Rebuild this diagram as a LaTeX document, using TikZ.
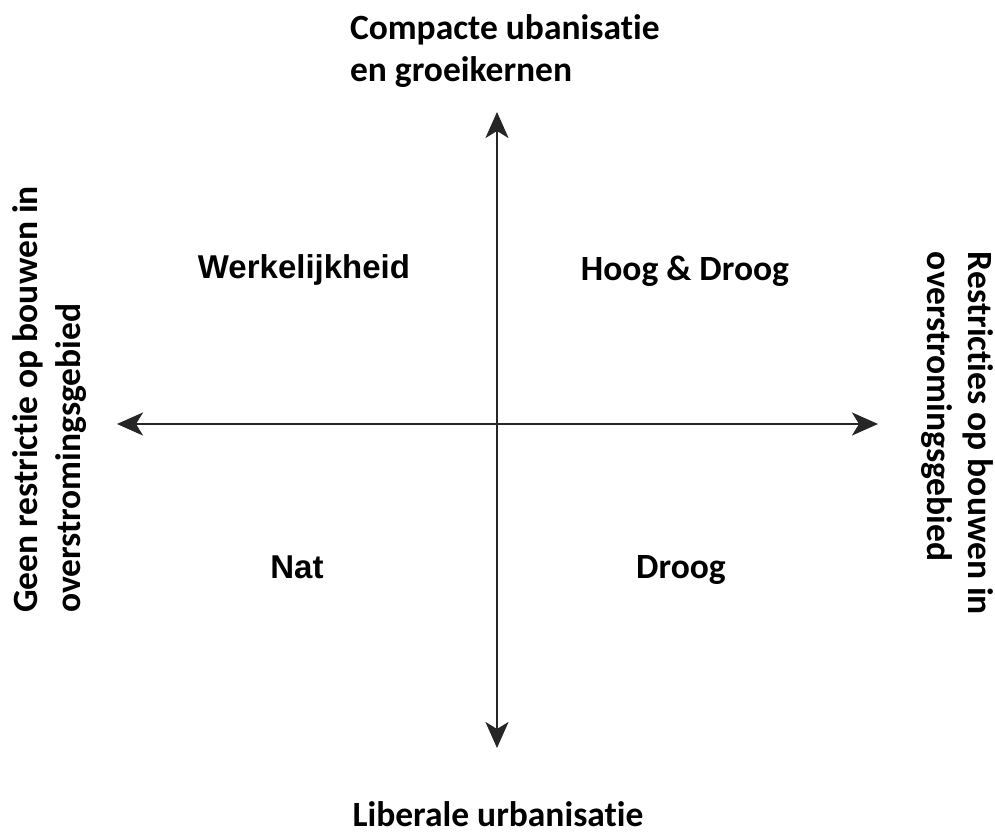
\documentclass[tikz,border=0pt]{standalone}
\usepackage{fontspec}
\setmainfont{Carlito}[RawFeature={-liga;-clig;-calt;-dlig}]
\newfontfamily\arialfont{Liberation Sans}
\usetikzlibrary{arrows.meta}
\tikzset{
  lbl/.style={inner sep=0pt, outer sep=0pt, font=\fontsize{35.5}{40}\selectfont\bfseries},
  albl/.style={inner sep=0pt, outer sep=0pt, font=\arialfont\fontsize{33}{38}\selectfont\bfseries},
  axis/.style={line width=2.6pt, black!85, -{Stealth[length=26pt, width=23pt, inset=7pt]}},
}
\begin{document}
\begin{tikzpicture}[x=1pt,y=1pt]
\useasboundingbox (0,0) rectangle (995,834);
\coordinate (c) at (497,410);
\coordinate (top) at (497,722);
\coordinate (bot) at (497,86);
\coordinate (lft) at (117,410);
\coordinate (rgt) at (878,410);
\draw[axis] (c) -- (top);
\draw[axis] (c) -- (bot);
\draw[axis] (c) -- (lft);
\draw[axis] (c) -- (rgt);
\node[lbl, anchor=base west] (t1) at (350,794) {Compacte ubanisatie};
\node[lbl, anchor=base west] (t2) at (350,752) {en groeikernen};
\node[lbl, anchor=base] (b1) at (498,7) {Liberale urbanisatie};
\node[albl, anchor=base] (q1) at (304,555) {Werkelijkheid};
\node[lbl, anchor=base] (q2) at (685,553) {Hoog \& Droog};
\node[albl, anchor=base] (q3) at (297,255) {Nat};
\node[lbl, anchor=base] (q4) at (681,255) {Droog};
\node[lbl, rotate=90, anchor=base west] (l1) at (37,221) {Geen restrictie op bouwen in};
\node[lbl, rotate=90, anchor=base west] (l2) at (80,221) {overstromingsgebied};
\node[lbl, rotate=-90, anchor=base west] (r1) at (968,582) {Restricties op bouwen in};
\node[lbl, rotate=-90, anchor=base west] (r2) at (927,582) {overstromingsgebied};
\end{tikzpicture}
\end{document}
